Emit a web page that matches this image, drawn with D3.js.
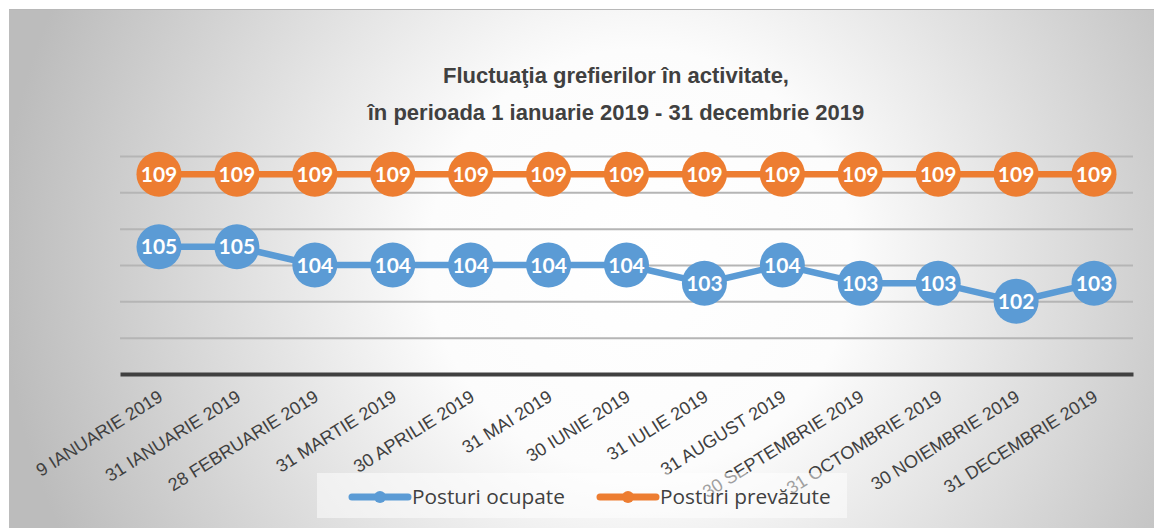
<!DOCTYPE html>
<html>
<head>
<meta charset="utf-8">
<script src="https://cdn.jsdelivr.net/npm/d3@7"></script>
<style>
  body { margin: 0; background: #fff; }
</style>
</head>
<body>
<div id="chart-area"></div>
<script>
const SVG_WIDTH = 1154
const SVG_HEIGHT = 528
const MARGIN = { left: 120, right: 21, top: 156, bottom: 154 }

const categories = ["9 IANUARIE 2019", "31 IANUARIE 2019", "28 FEBRUARIE 2019", "31 MARTIE 2019",
  "30 APRILIE 2019", "31 MAI 2019", "30 IUNIE 2019", "31 IULIE 2019", "31 AUGUST 2019",
  "30 SEPTEMBRIE 2019", "31 OCTOMBRIE 2019", "30 NOIEMBRIE 2019", "31 DECEMBRIE 2019"]
const postOcupate = [105, 105, 104, 104, 104, 104, 104, 103, 104, 103, 103, 102, 103]
const postPrevazute = [109, 109, 109, 109, 109, 109, 109, 109, 109, 109, 109, 109, 109]
const yTicks = [98, 100, 102, 104, 106, 108, 110]
const seriesNames = ["Posturi ocupate", "Posturi prevăzute"]
const titleLines = ["Fluctuaţia grefierilor în activitate,", "în perioada 1 ianuarie 2019 - 31 decembrie 2019"]

const BLUE = "#5b9bd5"
const ORANGE = "#ed7d31"

const G_WIDTH = SVG_WIDTH - MARGIN.left - MARGIN.right
const G_HEIGHT = SVG_HEIGHT - MARGIN.top - MARGIN.bottom

const svg = d3.select("#chart-area").append("svg")
  .attr("width", SVG_WIDTH)
  .attr("height", SVG_HEIGHT)
  .style("display", "block")

// chart area background, radial gray gradient
const defs = svg.append("defs")
const grad = defs.append("radialGradient")
  .attr("id", "bg")
  .attr("gradientUnits", "userSpaceOnUse")
  .attr("cx", 640).attr("cy", 260).attr("r", 640)
grad.append("stop").attr("offset", 0).attr("stop-color", "#ffffff")
grad.append("stop").attr("offset", 0.33).attr("stop-color", "#fcfcfc")
grad.append("stop").attr("offset", 1).attr("stop-color", "#bcbcbc")

svg.append("rect")
  .attr("x", 9).attr("y", 9)
  .attr("width", SVG_WIDTH - 9).attr("height", SVG_HEIGHT - 9)
  .attr("fill", "url(#bg)")
svg.append("line")
  .attr("x1", 9).attr("x2", SVG_WIDTH).attr("y1", 9.5).attr("y2", 9.5)
  .attr("stroke", "#b8b8b8")

const title = svg.append("text")
  .attr("text-anchor", "middle")
  .attr("font-family", "Liberation Sans, Arial, sans-serif")
  .attr("font-weight", "bold")
  .attr("font-size", "22px")
  .attr("fill", "#404040")
title.selectAll("tspan").data(titleLines).enter().append("tspan")
  .attr("x", 616)
  .attr("y", (d, i) => 83 + i * 37)
  .text(d => d)

const g = svg.append("g")
  .attr("transform", `translate(${MARGIN.left}, ${MARGIN.top})`)

const x = d3.scaleBand()
  .domain(categories)
  .range([0, G_WIDTH])

const y = d3.scaleLinear()
  .domain([98, 110])
  .range([G_HEIGHT, 0])

const cx = d => x(d) + x.bandwidth() / 2

// gridlines
g.append("g")
  .attr("class", "grid")
  .call(d3.axisLeft(y).tickValues(yTicks.slice(1)).tickSize(-G_WIDTH).tickFormat(""))
  .call(sel => sel.select(".domain").remove())
  .selectAll("line")
  .attr("stroke", "#b5b5b5")
  .attr("stroke-width", 2)

// x axis
const xAxis = g.append("g")
  .attr("class", "x axis")
  .attr("transform", `translate(0, ${G_HEIGHT})`)
  .call(d3.axisBottom(x).tickSize(0).tickPadding(0))
xAxis.select(".domain")
  .attr("stroke", "#404040")
  .attr("stroke-width", 4)
xAxis.selectAll("text")
  .attr("font-family", "Liberation Sans, Arial, sans-serif")
  .attr("font-size", "18px")
  .attr("fill", "#404040")
  .attr("text-anchor", "end")
  .attr("dy", 0)
  .attr("y", 0)
  .attr("x", 0)
  .attr("transform", "translate(5, 26) rotate(-32)")

// series
const series = [
  { name: seriesNames[1], values: postPrevazute, color: ORANGE },
  { name: seriesNames[0], values: postOcupate, color: BLUE }
]

const line = d3.line()
  .x((d, i) => cx(categories[i]))
  .y(d => y(d))

series.forEach(s => {
  const sg = g.append("g")
  sg.append("path")
    .datum(s.values)
    .attr("d", line)
    .attr("fill", "none")
    .attr("stroke", s.color)
    .attr("stroke-width", 6.5)
  const pts = sg.selectAll("g.pt")
    .data(s.values)
    .enter().append("g")
    .attr("class", "pt")
    .attr("transform", (d, i) => `translate(${cx(categories[i])}, ${y(d)})`)
  pts.append("circle")
    .attr("r", 22.5)
    .attr("fill", s.color)
  pts.append("text")
    .attr("text-anchor", "middle")
    .attr("dy", "0.36em")
    .attr("font-family", "Lato, 'Open Sans', sans-serif")
    .attr("font-weight", "bold")
    .attr("font-size", "21px")
    .attr("fill", "#ffffff")
    .text(d => d)
})

// legend
svg.append("rect")
  .attr("x", 317).attr("y", 473)
  .attr("width", 530).attr("height", 45)
  .attr("fill", "#ffffff")
  .attr("fill-opacity", 0.5)

const legendPos = [352, 600]
const legend = svg.selectAll("g.legend")
  .data([series[1], series[0]])
  .enter().append("g")
  .attr("class", "legend")
  .attr("transform", (d, i) => `translate(${legendPos[i]}, 497)`)
legend.append("line")
  .attr("x1", 0).attr("x2", 56)
  .attr("stroke", d => d.color)
  .attr("stroke-width", 7)
  .attr("stroke-linecap", "round")
legend.append("circle")
  .attr("cx", 28)
  .attr("r", 6)
  .attr("fill", d => d.color)
legend.append("text")
  .attr("x", 60)
  .attr("y", 7)
  .attr("font-family", "'Open Sans', sans-serif")
  .attr("font-size", "20.8px")
  .attr("fill", "#404040")
  .text(d => d.name)
</script>
</body>
</html>
